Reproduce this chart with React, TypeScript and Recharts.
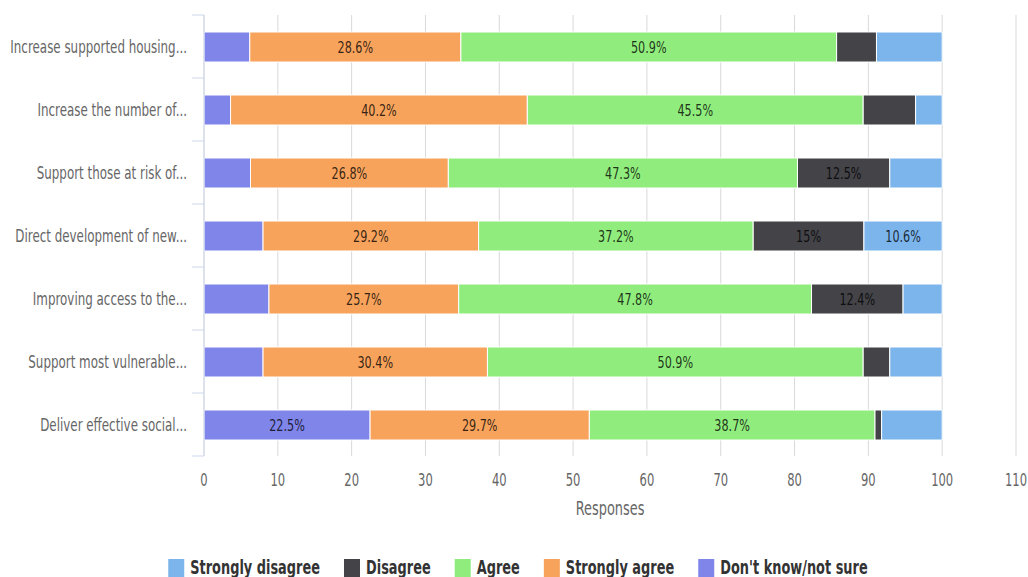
import React from 'react';
import { BarChart, Bar, XAxis, YAxis, CartesianGrid, LabelList, Legend } from 'recharts';

const categories = [
  'Increase supported housing...',
  'Increase the number of...',
  'Support those at risk of...',
  'Direct development of new...',
  'Improving access to the...',
  'Support most vulnerable...',
  'Deliver effective social...',
];
const dontKnow = [6.2, 3.6, 6.3, 8.0, 8.8, 8.0, 22.5];
const stronglyAgree = [28.6, 40.2, 26.8, 29.2, 25.7, 30.4, 29.7];
const agree = [50.9, 45.5, 47.3, 37.2, 47.8, 50.9, 38.7];
const disagree = [5.4, 7.1, 12.5, 15, 12.4, 3.6, 0.9];
const stronglyDisagree = [8.9, 3.6, 7.1, 10.6, 5.3, 7.1, 8.2];
const xTicks = [0, 10, 20, 30, 40, 50, 60, 70, 80, 90, 100, 110];
const axisTitle = 'Responses';

// stack order left -> right
const stackSeries = [
  { key: 'dk', name: "Don't know/not sure", color: '#8085e9' },
  { key: 'sa', name: 'Strongly agree', color: '#f7a35c' },
  { key: 'a', name: 'Agree', color: '#90ed7d' },
  { key: 'd', name: 'Disagree', color: '#434348' },
  { key: 'sd', name: 'Strongly disagree', color: '#7cb5ec' },
];
const legendOrder = ['sd', 'd', 'a', 'sa', 'dk'];

const data = categories.map((name, i) => ({
  name,
  dk: dontKnow[i],
  sa: stronglyAgree[i],
  a: agree[i],
  d: disagree[i],
  sd: stronglyDisagree[i],
}));

const W = 1028;
const H = 577;
const TOP = 15;
const XAXIS_H = 121;
const YAXIS_W = 204;
const PLOT_H = H - TOP - XAXIS_H;
const BAND = PLOT_H / categories.length;
const SX = 0.68;
const FONT = '"DejaVu Sans", sans-serif';

function SText(props: any) {
  const { x, y, anchor = 'middle', size, weight = 'normal', fill = '#666', opacity = 1, children } = props;
  return (
    <text
      transform={`translate(${x},${y}) scale(${SX},1)`}
      x={0}
      y={0}
      textAnchor={anchor}
      fontFamily={FONT}
      fontSize={size}
      fontWeight={weight}
      fill={fill}
      fillOpacity={opacity}
    >
      {children}
    </text>
  );
}

function YTick(props: any) {
  const { x, y, payload, index } = props;
  return (
    <g>
      <SText x={x - 17} y={y} anchor="end" size={17.5} fill="#666">
        <tspan dy="0.35em">{payload.value}</tspan>
      </SText>
      <line x1={x - 12} x2={x} y1={y + BAND / 2} y2={y + BAND / 2} stroke="#ccd6eb" strokeWidth={1} />
      {index === 0 && (
        <line x1={x - 12} x2={x} y1={y - BAND / 2} y2={y - BAND / 2} stroke="#ccd6eb" strokeWidth={1} />
      )}
    </g>
  );
}

function XTick(props: any) {
  const { x, y, payload } = props;
  return (
    <SText x={x} y={y + 30} size={17} fill="#666">
      {payload.value}
    </SText>
  );
}

function XLabel(props: any) {
  const vb = props.viewBox || {};
  return (
    <SText x={vb.x + vb.width / 2} y={vb.y + 58.5} size={19} fill="#666">
      {axisTitle}
    </SText>
  );
}

function SegLabel(props: any) {
  const { x, y, width, height, value } = props;
  if (value == null || value < 10) return null;
  return (
    <SText x={x + width / 2} y={y + height / 2} size={16.5} weight="normal" fill="#000" opacity={0.8}>
      <tspan dy="0.36em">{`${value}%`}</tspan>
    </SText>
  );
}

function measure(text: string, font: string) {
  try {
    const ctx = document.createElement('canvas').getContext('2d');
    if (ctx) {
      ctx.font = font;
      return ctx.measureText(text).width;
    }
  } catch (e) {}
  return text.length * 11;
}

function LegendContent() {
  const items = legendOrder.map((k) => stackSeries.find((s) => s.key === k)!);
  const SQ = 16;
  const GAP = 6;
  const ITEM_GAP = 24;
  const widths = items.map((it) => measure(it.name, `bold 19px ${FONT}`) * SX);
  const total = widths.reduce((s, w) => s + w + SQ + GAP, 0) + ITEM_GAP * (items.length - 1);
  let cx = 518 - total / 2;
  const nodes = items.map((it, i) => {
    const x0 = cx;
    cx += SQ + GAP + widths[i] + ITEM_GAP;
    return (
      <g key={it.key}>
        <rect x={x0} y={11} width={SQ} height={20} fill={it.color} />
        <SText x={x0 + SQ + GAP} y={26.3} anchor="start" size={19} weight="bold" fill="#333">
          {it.name}
        </SText>
      </g>
    );
  });
  return (
    <svg width={W} height={29} style={{ display: 'block', overflow: 'hidden' }}>
      {nodes}
    </svg>
  );
}

export default function App() {
  return (
    <div style={{ position: 'absolute', left: 0, top: 0, width: W, height: H, background: '#fff', overflow: 'hidden' }}>
      <BarChart
        layout="vertical"
        width={W}
        height={H}
        data={data}
        margin={{ top: TOP, right: 12, left: 0, bottom: 0 }}
        barSize={30}
      >
        <CartesianGrid horizontal={false} stroke="#d9d9d9" />
        <XAxis
          type="number"
          domain={[0, 110]}
          ticks={xTicks}
          height={XAXIS_H}
          axisLine={false}
          tickLine={false}
          tickSize={0}
          tickMargin={0}
          tick={<XTick />}
          label={<XLabel />}
          interval={0}
        />
        <YAxis
          type="category"
          dataKey="name"
          width={YAXIS_W}
          axisLine={{ stroke: '#ccd6eb' }}
          tickLine={false}
          tickSize={0}
          tickMargin={0}
          tick={<YTick />}
          interval={0}
        />
        <Legend
          verticalAlign="middle"
          align="center"
          layout="horizontal"
          wrapperStyle={{ top: 548, left: 0, width: W, height: 29 }}
          content={<LegendContent />}
        />
        {stackSeries.map((s) => (
          <Bar
            key={s.key}
            dataKey={s.key}
            name={s.name}
            stackId="1"
            fill={s.color}
            stroke="#fff"
            strokeWidth={1}
            isAnimationActive={false}
          >
            <LabelList dataKey={s.key} content={<SegLabel />} />
          </Bar>
        ))}
      </BarChart>
    </div>
  );
}
